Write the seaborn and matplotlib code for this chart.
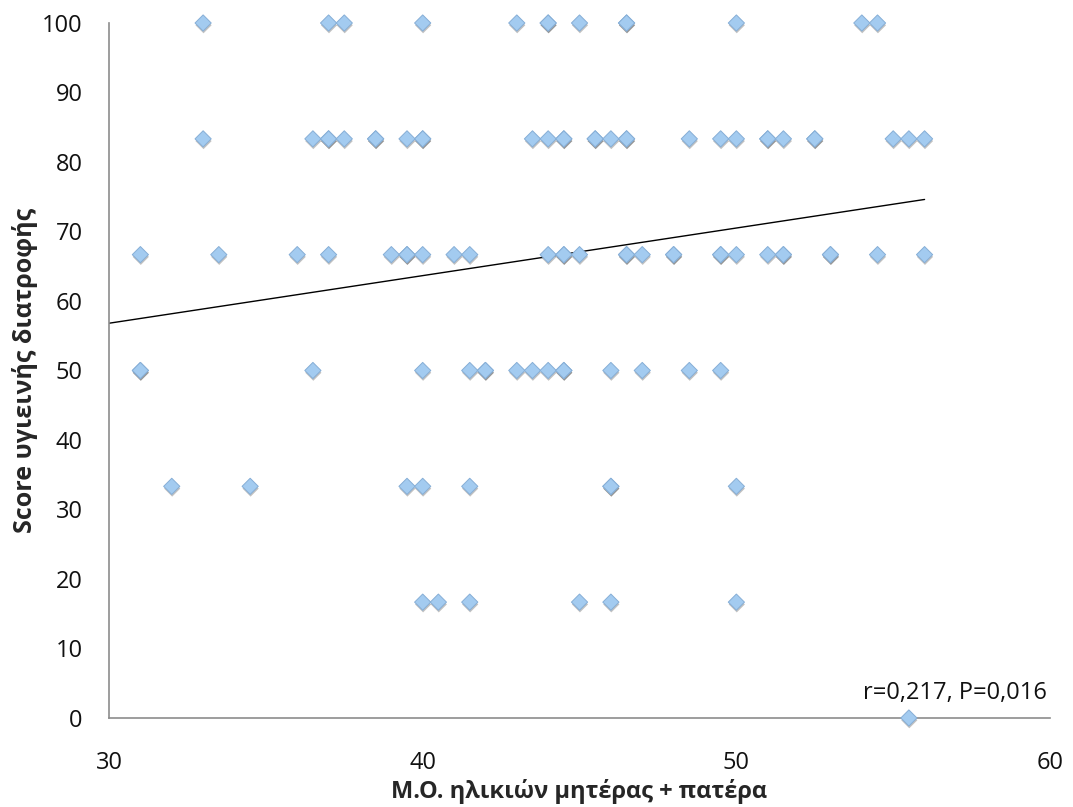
import numpy as np
import pandas as pd
import matplotlib
matplotlib.use("Agg")
import matplotlib.pyplot as plt
import matplotlib.patheffects as pe
import seaborn as sns

# ---- data (x = mean parental age, y = score) ----
x_100 = [33, 37, 37.5, 40, 43, 44, 44, 45, 46.5, 46.5, 50, 54, 54.5]
x_83 = [33, 36.5, 37, 37, 37.5, 38.5, 38.5, 39.5, 40, 40, 43.5, 44, 44.5, 44.5,
        45.5, 45.5, 46, 46.5, 46.5, 48.5, 49.5, 50, 51, 51, 51.5, 52.5, 52.5,
        55, 55.5, 56]
x_67 = [31, 33.5, 36, 37, 39, 39.5, 39.5, 40, 41, 41.5, 44, 44.5, 44.5, 45,
        46.5, 46.5, 47, 48, 48, 49.5, 49.5, 50, 51, 51.5, 51.5, 53, 53, 54.5, 56]
x_50 = [31, 31, 36.5, 40, 41.5, 42, 42, 43, 43.5, 44, 44.5, 44.5, 46, 47,
        48.5, 49.5]
x_33 = [32, 34.5, 39.5, 40, 41.5, 46, 46, 50]
x_17 = [40, 40.5, 41.5, 45, 46, 50]
x_0 = [55.5]

levels = [100, 83.33, 66.67, 50, 33.33, 16.67, 0]
groups = [x_100, x_83, x_67, x_50, x_33, x_17, x_0]

# linear trend line as shown in the picture (Excel trendline)
trend_x_range = [30, 56]
trend_intercept = 36.25
trend_slope = 0.685

x_ticks = [30, 40, 50, 60]
y_ticks = [0, 10, 20, 30, 40, 50, 60, 70, 80, 90, 100]
x_label = "Μ.Ο. ηλικιών μητέρας + πατέρα"
y_label = "Score υγιεινής διατροφής"
stats_text = "r=0,217, P=0,016"

rows = []
for lvl, xs in zip(levels, groups):
    for xv in xs:
        rows.append((xv, lvl))
df = pd.DataFrame(rows, columns=["age", "score"])

# ---- plot ----
sns.set_theme(style="white")
plt.rcParams["font.family"] = ["Open Sans", "DejaVu Sans"]

fig = plt.figure(figsize=(10.73, 8.07), dpi=100)
ax = fig.add_axes([0.1016, 0.1103, 0.8770, 0.8612])

sns.scatterplot(data=df, x="age", y="score", ax=ax, marker="D", s=68,
                color="#A3CBF0", edgecolor="#86AED6", linewidth=0.7,
                clip_on=False, zorder=3)
for coll in ax.collections:
    coll.set_path_effects([pe.SimplePatchShadow(offset=(0.3, -1.6),
                                                shadow_rgbFace="#333333",
                                                alpha=0.3),
                           pe.Normal()])

tx = np.array(trend_x_range, dtype=float)
ax.plot(tx, trend_intercept + trend_slope * tx, color="black", linewidth=1.0,
        zorder=2)

ax.set_xlim(30, 60)
ax.set_ylim(0, 100)
ax.set_xticks(x_ticks)
ax.set_yticks(y_ticks)
ax.tick_params(axis="both", which="both", direction="out", length=7,
               width=1, color="#8c8c8c", labelsize=17,
               labelcolor="#111111")
ax.tick_params(axis="y", pad=12)
ax.tick_params(axis="x", pad=17)
for side in ["top", "right"]:
    ax.spines[side].set_visible(False)
for side in ["left", "bottom"]:
    ax.spines[side].set_color("#8c8c8c")
    ax.spines[side].set_linewidth(1.2)

ax.set_xlabel(x_label, fontsize=17, fontweight="bold", labelpad=3)
ax.set_ylabel(y_label, fontsize=18, fontweight="bold", labelpad=3)

ax.text(0.997, 0.036, stats_text, transform=ax.transAxes, ha="right",
        va="center", fontsize=17, color="#111111")

fig.savefig("out.png", dpi=100)
